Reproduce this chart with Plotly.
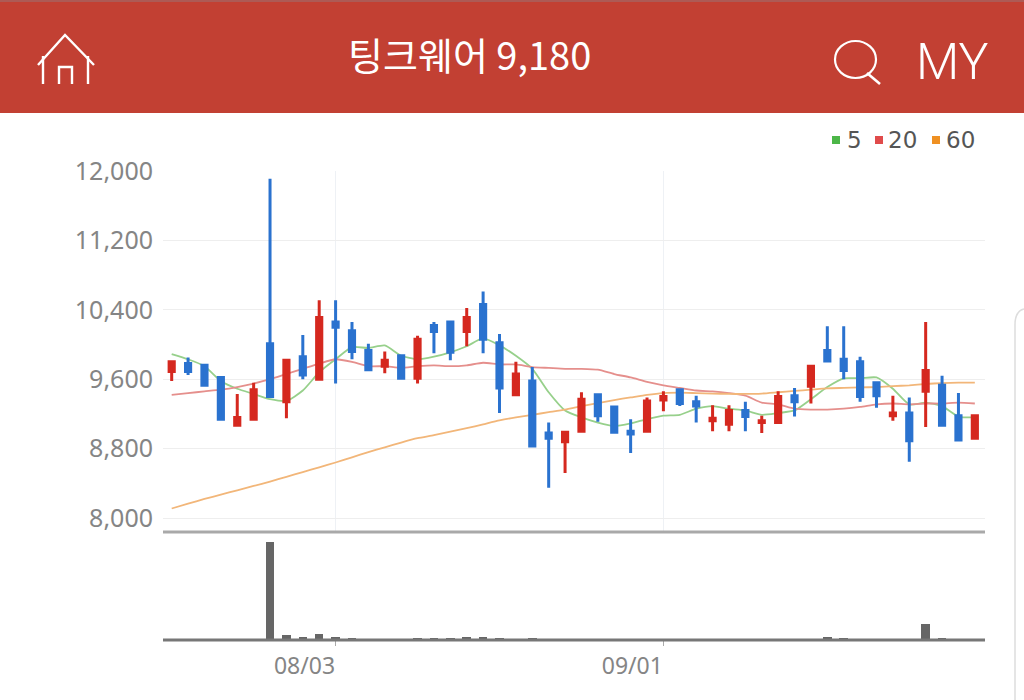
import plotly.graph_objects as go

title_text = "팅크웨어 9,180"
y_ticks = [8000, 8800, 9600, 10400, 11200, 12000]
y_tick_text = ["8,000", "8,800", "9,600", "10,400", "11,200", "12,000"]
x_ticks = [10, 30]
x_tick_text = ["08/03", "09/01"]
sessions = list(range(50))

opens = [9690, 9780, 9760, 9620, 9070, 9140, 10010, 9340, 9860, 9600, 10260, 10160, 9930, 9750, 9870, 9610, 10220,
         10260, 10150, 10460, 10020, 9420, 9580, 8980, 8880, 9000, 9420, 9280, 9000, 9000, 9360, 9480, 9340,
         9120, 9080, 9240, 9100, 9100, 9410, 9520, 9930, 9830, 9800, 9560, 9180, 9210, 9460, 9530, 9180, 8920]
closes = [9800, 9690, 9530, 9140, 9160, 9480, 9400, 9820, 9650, 10310, 10200, 9920, 9710, 9820, 9610, 10060, 10150,
          9910, 10310, 10060, 9500, 9660, 8830, 8920, 8990, 9370, 9180, 8990, 8970, 9350, 9400, 9320, 9290,
          9150, 9240, 9170, 9120, 9400, 9340, 9750, 9810, 9700, 9400, 9410, 9210, 8890, 9700, 9070, 8900, 9180]
highs = [9800, 9850, 9760, 9620, 9430, 9560, 11910, 9820, 10110, 10510, 10510, 10260, 10010, 9920, 9870, 10100, 10260,
         10260, 10420, 10610, 10120, 9800, 9740, 9100, 8990, 9450, 9420, 9280, 9140, 9390, 9460, 9480, 9410,
         9300, 9300, 9340, 9180, 9460, 9500, 9750, 10210, 10210, 9860, 9560, 9410, 9390, 10260, 9640, 9440, 9180]
lows = [9580, 9650, 9530, 9140, 9070, 9140, 9400, 9150, 9600, 9600, 9550, 9830, 9710, 9670, 9610, 9550, 9900,
        9820, 9980, 9900, 9210, 9420, 8830, 8350, 8520, 9000, 9110, 8990, 8750, 9000, 9230, 9290, 9100,
        9000, 9000, 9000, 8980, 9100, 9170, 9320, 9810, 9600, 9340, 9270, 9120, 8650, 9050, 9070, 8900, 8920]
ma5 = [9890, 9830, 9750, 9580, 9490, 9430, 9370, 9350, 9470, 9680, 9830, 9970, 9960, 9990, 9870, 9830, 9860,
       9910, 9980, 10070, 9990, 9870, 9720, 9450, 9240, 9160, 9100, 9060, 9090, 9140, 9180, 9190, 9260,
       9290, 9260, 9240, 9190, 9210, 9240, 9370, 9510, 9610, 9610, 9620, 9490, 9310, 9330, 9290, 9170, 9160]
ma20 = [9420, 9440, 9460, 9480, 9510, 9550, 9600, 9660, 9720, 9780, 9830, 9800, 9750, 9750, 9730, 9750, 9760,
        9750, 9760, 9790, 9770, 9770, 9740, 9730, 9720, 9720, 9710, 9660, 9620, 9570, 9530, 9500, 9470,
        9460, 9440, 9410, 9330, 9310, 9260, 9250, 9250, 9260, 9280, 9310, 9320, 9310, 9320, 9320, 9330, 9320]
ma60 = [8110, 8165, 8220, 8270, 8320, 8370, 8420, 8475, 8530, 8585, 8640, 8700, 8760, 8815, 8870, 8920, 8955,
        8995, 9035, 9080, 9125, 9160, 9190, 9220, 9250, 9290, 9325, 9360, 9390, 9420, 9440, 9445, 9440,
        9435, 9430, 9430, 9435, 9450, 9465, 9480, 9495, 9500, 9505, 9510, 9520, 9530, 9545, 9555, 9560, 9560]
volume = [0, 0, 0, 0, 0, 0, 98, 5, 3.3, 6.3, 3.3, 1.7, 0, 0, 0, 1.7, 1.7,
          1.7, 3.3, 3.3, 2, 0, 1.7, 0, 0, 0, 0, 0, 0, 0, 0, 0, 0,
          0, 0, 0, 0, 0, 0, 0, 3.3, 2, 0, 0, 0, 0, 16.3, 1.7, 0, 0]
legend_names = ["5", "20", "60"]

W, H = 1024, 700
RED, BLUE = "#d5281f", "#2a72cf"
HEADER = "#c24033"
GREY = "#858585"


def px(x):
    return x / W


def py(y):
    return 1 - y / H


def path(points, close=False):
    s = "M " + " L ".join(f"{px(a):.5f},{py(b):.5f}" for a, b in points)
    return s + (" Z" if close else "")


fig = go.Figure()
for name, vals, col in [("5", ma5, "#97d08b"), ("20", ma20, "#e58f8c"), ("60", ma60, "#f2b679")]:
    fig.add_trace(go.Scatter(x=sessions, y=vals, mode="lines", name=name, showlegend=False,
                             line=dict(color=col, width=1.8, shape="spline", smoothing=0.6)))
fig.add_trace(go.Candlestick(x=sessions, open=opens, high=highs, low=lows, close=closes, whiskerwidth=0,
                             increasing=dict(line=dict(color=RED, width=3), fillcolor=RED),
                             decreasing=dict(line=dict(color=BLUE, width=3), fillcolor=BLUE),
                             showlegend=False, zorder=2))
fig.add_trace(go.Bar(x=sessions, y=volume, xaxis="x2", yaxis="y2", marker=dict(color="#666666", line_width=0),
                     width=0.52, showlegend=False))

shapes = [
    dict(type="rect", xref="paper", yref="paper", x0=0, x1=1, y0=py(113), y1=1, fillcolor=HEADER, line_width=0, layer="below"),
    dict(type="rect", xref="paper", yref="paper", x0=0, x1=1, y0=py(2), y1=1, fillcolor="#ad5a55", line_width=0, layer="below"),
    dict(type="path", xref="paper", yref="paper", path=path([(38, 65), (65, 35), (94, 65)]), line=dict(color="white", width=2.4)),
    dict(type="path", xref="paper", yref="paper", path=path([(43, 56), (43, 84)]), line=dict(color="white", width=2.4)),
    dict(type="path", xref="paper", yref="paper", path=path([(88, 56), (88, 84)]), line=dict(color="white", width=2.4)),
    dict(type="path", xref="paper", yref="paper", path=path([(59, 84), (59, 67), (72, 67), (72, 84)]), line=dict(color="white", width=2.4)),
    dict(type="circle", xref="paper", yref="paper", x0=px(835), x1=px(876), y0=py(78), y1=py(41), line=dict(color="white", width=2.2)),
    dict(type="path", xref="paper", yref="paper", path=path([(867, 73), (880, 84)]), line=dict(color="white", width=2.6)),
    dict(type="path", xref="paper", yref="paper",
         path=f"M {px(1024):.5f},{py(309):.5f} Q {px(1015):.5f},{py(311):.5f} {px(1015):.5f},{py(325):.5f} L {px(1015):.5f},{py(700):.5f}",
         line=dict(color="#dddddd", width=1.5)),
    dict(type="line", xref="paper", yref="paper", x0=px(163), x1=px(985), y0=py(532), y1=py(532), line=dict(color="#a9a9a9", width=3)),
    dict(type="line", xref="paper", yref="paper", x0=px(163), x1=px(985), y0=py(640), y1=py(640), line=dict(color="#777777", width=3)),
]
annotations = [
    dict(text=title_text, xref="paper", yref="paper", x=px(469), y=py(53), showarrow=False, xanchor="center", yanchor="middle",
         font=dict(family="Noto Sans CJK KR", size=38, color="white", weight=400)),
    dict(text="MY", xref="paper", yref="paper", x=px(952), y=py(62), showarrow=False, xanchor="center", yanchor="middle",
         font=dict(family="Roboto", size=50, color="white", weight=300)),
]
for name, sq_x, tx_x, col in zip(legend_names, [836, 879, 936], [847, 888, 946], ["#4cb648", "#e04b4b", "#ef9022"]):
    shapes.append(dict(type="rect", xref="paper", yref="paper", x0=px(sq_x - 4), x1=px(sq_x + 4), y0=py(144), y1=py(136),
                       fillcolor=col, line_width=0))
    annotations.append(dict(text=name, xref="paper", yref="paper", x=px(tx_x), y=py(140), showarrow=False, xanchor="left",
                            yanchor="middle", xshift=-2, font=dict(family="DejaVu Sans", size=23, color="#555555")))

X_RANGE = [-0.53, 49.62]
fig.update_layout(
    width=W, height=H, margin=dict(l=0, r=0, t=0, b=0), paper_bgcolor="white", plot_bgcolor="white",
    boxgap=0.55, bargap=0, showlegend=False, shapes=shapes, annotations=annotations,
    font=dict(family="Noto Sans", color=GREY),
    xaxis=dict(domain=[px(163), px(985)], range=X_RANGE, anchor="y", tickmode="array", tickvals=x_ticks, ticktext=["", ""],
               automargin=False, showgrid=True, gridcolor="#eef1f5", gridwidth=1.2, zeroline=False, showline=False,
               ticks="", rangeslider=dict(visible=False)),
    yaxis=dict(domain=[py(532), py(171)], range=[7839, 12000], anchor="x", tickmode="array", tickvals=y_ticks, ticktext=y_tick_text,
               automargin=False, showgrid=True, gridcolor="#eeeeee", gridwidth=1.2, zeroline=False, showline=False, ticks="outside",
               ticklen=4, tickcolor="rgba(0,0,0,0)", tickfont=dict(family="Noto Sans", size=25, color=GREY)),
    xaxis2=dict(domain=[px(163), px(985)], range=X_RANGE, anchor="y2", tickmode="array", tickvals=x_ticks, ticktext=x_tick_text,
                automargin=False, ticklabelposition="outside left", ticklabelstandoff=5, showgrid=False, zeroline=False, showline=False,
                ticks="outside", ticklen=5, tickcolor="#aaaaaa", tickfont=dict(family="Noto Sans", size=23, color=GREY)),
    yaxis2=dict(domain=[py(640), py(540)], range=[0, 100], anchor="x2", automargin=False, showticklabels=False, showgrid=False,
                zeroline=False, showline=False, ticks=""),
)
fig.write_html("out.html", post_script="document.body.style.margin='0';document.documentElement.style.overflow='hidden';",
               config=dict(displayModeBar=False))
